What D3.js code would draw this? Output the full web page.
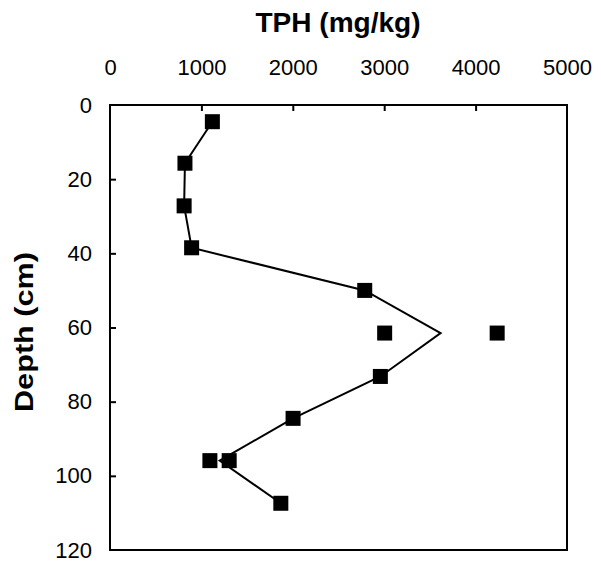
<!DOCTYPE html>
<html>
<head>
<meta charset="utf-8">
<script src="https://cdn.jsdelivr.net/npm/d3@7/dist/d3.min.js"></script>
<style>
  body { margin: 0; background: #fff; }
  text { font-family: "Liberation Sans", Arial, sans-serif; fill: #000; }
</style>
</head>
<body>
<div id="chart"></div>
<script>
// measured samples (TPH mg/kg vs depth cm)
const sampleTPH   = [1120, 820, 811, 893, 2787, 3005, 4236, 2958, 2003, 1093, 1304, 1869];
const sampleDepth = [4.5, 15.7, 27.2, 38.5, 50, 61.5, 61.5, 73.2, 84.5, 95.9, 95.9, 107.4];

// profile line (mean at duplicated depths)
const lineTPH   = [1120, 820, 811, 893, 2787, 3617, 2958, 2003, 1200, 1869];
const lineDepth = [4.5, 15.7, 27.2, 38.5, 50, 61.5, 73.2, 84.5, 95.9, 107.4];

const xTicks = [0, 1000, 2000, 3000, 4000, 5000];
const yTicks = [0, 20, 40, 60, 80, 100, 120];

const W = 601, H = 567;
const margin = { top: 105, right: 34, bottom: 17, left: 110 };
const width = W - margin.left - margin.right;
const height = H - margin.top - margin.bottom;

const svg = d3.select('#chart').append('svg')
  .attr('width', W).attr('height', H);

const g = svg.append('g')
  .attr('transform', `translate(${margin.left},${margin.top})`);

const x = d3.scaleLinear().domain([0, 5000]).range([0, width]);
const y = d3.scaleLinear().domain([0, 120]).range([0, height]);

// frame
g.append('rect')
  .attr('width', width).attr('height', height)
  .attr('fill', 'none').attr('stroke', '#000').attr('stroke-width', 2);

// top axis, ticks pointing inward
const xAxis = d3.axisTop(x).tickValues(xTicks).tickSize(-6).tickPadding(30).tickFormat(d3.format('d'));
const gx = g.append('g').call(xAxis);
gx.select('.domain').remove();
gx.selectAll('.tick line').attr('stroke-width', 2)
  .filter(d => d === 0 || d === 5000).remove();
gx.selectAll('.tick text')
  .attr('font-size', 22).attr('font-family', '"Liberation Sans", Arial, sans-serif');

// left axis
const yAxis = d3.axisLeft(y).tickValues(yTicks).tickSize(-6).tickPadding(18);
const gy = g.append('g').call(yAxis);
gy.select('.domain').remove();
gy.selectAll('.tick line').attr('stroke-width', 2)
  .filter(d => d === 0 || d === 120).remove();
gy.selectAll('.tick text')
  .attr('font-size', 22).attr('font-family', '"Liberation Sans", Arial, sans-serif');

// profile line
const line = d3.line()
  .x((d, i) => x(lineTPH[i]))
  .y((d, i) => y(lineDepth[i]));

g.append('path')
  .datum(lineTPH)
  .attr('d', line)
  .attr('fill', 'none')
  .attr('stroke', '#000')
  .attr('stroke-width', 2);

// square markers
const s = 15;
g.selectAll('.pt')
  .data(sampleTPH)
  .enter()
  .append('rect')
  .attr('class', 'pt')
  .attr('x', (d, i) => x(d) - s / 2)
  .attr('y', (d, i) => y(sampleDepth[i]) - s / 2)
  .attr('width', s).attr('height', s)
  .attr('fill', '#000');

// titles
svg.append('text')
  .attr('x', margin.left + width / 2 - 0.5).attr('y', 32)
  .attr('text-anchor', 'middle')
  .attr('font-size', 28).attr('font-weight', 'bold')
  .attr('textLength', 165).attr('lengthAdjust', 'spacingAndGlyphs')
  .text('TPH (mg/kg)');

svg.append('text')
  .attr('transform', 'translate(33,332) rotate(-90)')
  .attr('text-anchor', 'middle')
  .attr('font-size', 25).attr('font-weight', 'bold')
  .attr('textLength', 160).attr('lengthAdjust', 'spacingAndGlyphs')
  .text('Depth (cm)');
</script>
</body>
</html>
